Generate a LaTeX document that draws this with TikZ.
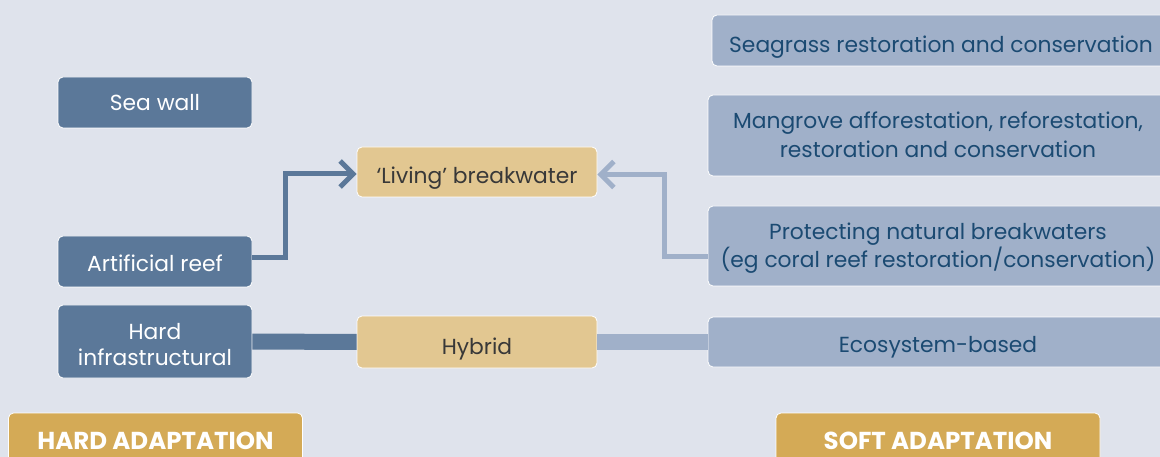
\documentclass[tikz,border=0pt]{standalone}
\usepackage{fontspec}
\setmainfont{Poppins}
\usetikzlibrary{arrows.meta}
\definecolor{bgc}{HTML}{DFE3EC}
\definecolor{hardc}{HTML}{5B7899}
\definecolor{tanc}{HTML}{E2C791}
\definecolor{softc}{HTML}{A0B0C9}
\definecolor{goldc}{HTML}{D4AA56}
\definecolor{navytext}{HTML}{1B4A72}
\definecolor{graytext}{HTML}{383838}
% invisible strut: height #1 above, depth #2 below the baseline
\newcommand\vsp[2]{\rule[-#2]{0pt}{\dimexpr#1+#2\relax}}
\tikzset{
  box/.style={draw=white, line width=0.8pt, rounded corners=5pt, align=center,
    inner sep=0pt, font=\fontsize{21.8}{28}\selectfont},
  hardbox/.style={box, fill=hardc, text=white, minimum width=194pt},
  tanbox/.style={box, fill=tanc, text=graytext, minimum width=240pt},
  softbox/.style={box, fill=softc, text=navytext, minimum width=460pt},
  catbox/.style={box, fill=goldc, text=white, minimum height=56pt,
    font=\fontsize{24.5}{28}\selectfont\bfseries},
  darklink/.style={draw=hardc, line width=5pt},
  lightlink/.style={draw=softc, line width=5pt},
  chev/.style={-{Straight Barb[length=13pt,width=26pt]}},
}
\begin{document}
\begin{tikzpicture}[x=1pt,y=-1pt]
\useasboundingbox (0,0) rectangle (1160,457);
\fill[bgc] (0,0) rectangle (1160,457);
\begin{scope}
\clip (0,0) rectangle (1160,457);
% hard side
\node[hardbox, minimum height=51pt] (seawall) at (155,102.5) {\vsp{23pt}{6pt}Sea wall};
\node[hardbox, minimum height=51pt] (artreef) at (155,261.5) {\vsp{26.6pt}{6pt}Artificial reef};
\node[hardbox, minimum height=73pt, font=\fontsize{21.8}{26}\selectfont] (hardinf) at (155,341.5)
  {\vsp{27.2pt}{0pt}Hard\\infrastructural\vsp{0pt}{6pt}};
% middle
\node[tanbox, minimum height=50pt] (living) at (477,172) {\vsp{28.6pt}{6pt}‘Living’ breakwater};
\node[tanbox, minimum height=52pt] (hybrid) at (477,342) {\vsp{30pt}{6pt}Hybrid};
% soft side
\node[softbox, minimum width=458pt, minimum height=51pt] (seagrass) at (941,40.5)
  {\vsp{30.4pt}{6pt}Seagrass restoration and conservation};
\node[softbox, minimum height=81pt, font=\fontsize{21.8}{29}\selectfont] (mangrove) at (938,135.5)
  {\vsp{21.6pt}{0pt}Mangrove afforestation, reforestation,\\restoration and conservation\vsp{0pt}{6pt}};
\node[softbox, minimum height=80pt, font=\fontsize{21.8}{28.3}\selectfont] (protect) at (938,246)
  {\vsp{21.7pt}{0pt}Protecting natural breakwaters\\(eg coral reef restoration/conservation)\vsp{0pt}{6pt}};
\node[softbox, minimum height=50pt] (ecosys) at (938,342) {\vsp{27.4pt}{6pt}Ecosystem-based};
% categories
\node[catbox, minimum width=294pt] (hardad) at (155.5,441) {\vsp{22.6pt}{6pt}HARD ADAPTATION};
\node[catbox, minimum width=324pt] (softad) at (938,441) {\vsp{22.6pt}{6pt}SOFT ADAPTATION};
% connectors
\draw[darklink, line width=16pt] (hardinf.east) -- (hybrid.west);
\draw[lightlink, line width=16pt] (hybrid.east) -- (ecosys.west);
\draw[darklink, chev] ([yshift=4pt]artreef.east) -- ++(33,0) |- ([yshift=-2pt]living.west);
\draw[lightlink, chev] ([yshift=-11pt]protect.west) -- ++(-43,0) |- ([yshift=-2.5pt]living.east);
\end{scope}
\end{tikzpicture}
\end{document}
